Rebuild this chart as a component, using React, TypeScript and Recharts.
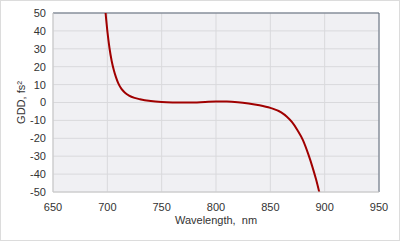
import React from "react";
import { LineChart, Line, XAxis, YAxis, CartesianGrid, ReferenceLine } from "recharts";

// wavelength (nm) and GDD (fs²)
const wavelength = [697, 698, 699, 700, 701, 702, 704, 706, 708, 710, 713, 716, 720, 725, 730, 740, 750, 760, 770, 780, 790, 800, 810, 820, 830, 840, 850, 860, 865, 870, 875, 880, 885, 889, 892, 895, 897];
const gdd = [62, 53, 46, 40, 34.8, 30.3, 23.2, 18, 14, 10.8, 7.6, 5.6, 3.9, 2.6, 1.8, 0.8, 0.3, 0.05, -0.05, 0.05, 0.3, 0.5, 0.5, 0.2, -0.5, -1.5, -3, -5.5, -7.8, -11, -15.5, -21, -29, -36.5, -42.8, -50, -55];

const xTicks = [650, 700, 750, 800, 850, 900, 950];
const yTicks = [-50, -40, -30, -20, -10, 0, 10, 20, 30, 40, 50];

const data = wavelength.map((w, i) => ({ w, v: gdd[i] }));

const tickStyle = { fontSize: 11, fill: "#333", fontFamily: "Liberation Sans, Arial, sans-serif" };

export default function App() {
  return (
    <div
      style={{
        position: "absolute",
        left: 0,
        top: 0,
        width: 400,
        height: 241,
        background: "#fff",
        boxSizing: "border-box",
        border: "1px solid #dcdcdc",
      }}
    >
      <div style={{ position: "absolute", left: -1, top: -1 }}>
        <LineChart width={400} height={241} data={data} margin={{ top: 13, right: 21, bottom: 20, left: 13 }}>
          <CartesianGrid stroke="#d9d9dc" strokeWidth={1} fill="#f0f0f3" fillOpacity={1} />
          <XAxis
            dataKey="w"
            type="number"
            domain={[650, 950]}
            ticks={xTicks}
            allowDataOverflow
            tickLine={false}
            tickSize={9}
            axisLine={{ stroke: "#c8c8c8" }}
            tick={tickStyle}
            height={29}
            label={{ value: "Wavelength,\u00A0 nm", position: "insideBottom", offset: -3, style: tickStyle }}
          />
          <YAxis
            type="number"
            domain={[-50, 50]}
            ticks={yTicks}
            allowDataOverflow
            interval={0}
            tickLine={false}
            tickSize={5}
            axisLine={{ stroke: "#c8c8c8" }}
            tick={tickStyle}
            width={40}
            label={{ value: "GDD, fs²", angle: -90, position: "insideLeft", offset: 8, style: { ...tickStyle, textAnchor: "middle" } }}
          />
          <ReferenceLine y={50} stroke="#5f6b7a" strokeWidth={1} />
          <ReferenceLine x={950} stroke="#5f6b7a" strokeWidth={1} />
          <Line
            dataKey="v"
            type="monotone"
            stroke="#a00000"
            strokeWidth={2}
            dot={false}
            isAnimationActive={false}
          />
        </LineChart>
      </div>
    </div>
  );
}
